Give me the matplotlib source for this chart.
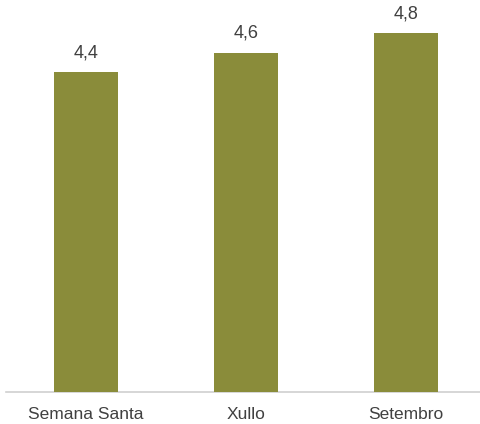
import matplotlib.pyplot as plt

plt.rcParams['font.family'] = ['Liberation Sans', 'DejaVu Sans']

categories = ['Semana Santa', 'Xullo', 'Setembro']
values = [4.4, 4.6, 4.8]
labels = ['4,4', '4,6', '4,8']

fig = plt.figure(figsize=(4.81, 4.24), dpi=100)
ax = fig.add_axes([6 / 481, 32 / 424, 475 / 481, 392 / 424])

x = range(len(categories))
bars = ax.bar(x, values, width=0.4, color='#8A8C3A', zorder=3)

for b, lab in zip(bars, labels):
    ax.annotate(lab, (b.get_x() + b.get_width() / 2, b.get_height()),
                xytext=(0, 8), textcoords='offset points',
                ha='center', va='bottom', fontsize=13, color='#404040')

ax.set_ylim(1.12, 5.14)
ax.set_xlim(-0.502, 2.47)
ax.set_xticks(list(x))
ax.set_xticklabels(categories, fontsize=12.5, color='#404040')
ax.tick_params(axis='x', length=0, pad=11)
ax.set_yticks([])
for s in ['top', 'right', 'left']:
    ax.spines[s].set_visible(False)
ax.spines['bottom'].set_color('#d0d0d0')
ax.spines['bottom'].set_linewidth(1.2)

fig.savefig('out.png', dpi=100)
